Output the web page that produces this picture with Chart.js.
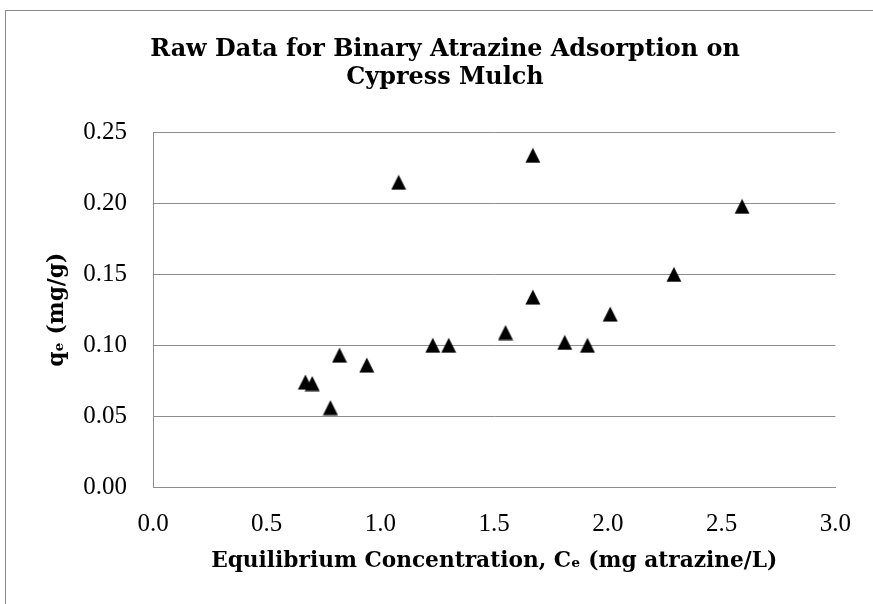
<!DOCTYPE html>
<html>
<head>
<meta charset="utf-8">
<script src="https://cdn.jsdelivr.net/npm/chart.js@4.4.0/dist/chart.umd.min.js"></script>
<style>
  html, body { margin: 0; padding: 0; background: #fff; overflow: hidden; }
  #frame { position: absolute; left: 5px; top: 10px; width: 2000px; height: 2000px;
           border: 1px solid #8a8a8a; box-sizing: border-box; }
  #wrap { position: absolute; left: 0; top: 0; width: 873px; height: 604px; }
</style>
</head>
<body>
<div id="frame"></div>
<div id="wrap"><canvas id="scatterChart" width="873" height="604"></canvas></div>
<script>
// readings from the reference picture
const ceValues = [0.67, 0.70, 0.78, 0.82, 0.94, 1.08, 1.23, 1.30, 1.55, 1.67, 1.67, 1.81, 1.91, 2.01, 2.29, 2.59];
const qeValues = [0.074, 0.073, 0.056, 0.093, 0.086, 0.215, 0.100, 0.100, 0.109, 0.234, 0.134, 0.102, 0.100, 0.122, 0.150, 0.198];
const xTicks = [0.0, 0.5, 1.0, 1.5, 2.0, 2.5, 3.0];
const yTicks = [0.00, 0.05, 0.10, 0.15, 0.20, 0.25];

const titleLines = ["Raw Data for Binary Atrazine Adsorption on", "Cypress Mulch"];
const xTitle = "Equilibrium Concentration, C\u2091 (mg atrazine/L)";
const yTitle = "q\u2091 (mg/g)";

// triangle marker, centred on its box like the spreadsheet one
const tri = document.createElement("canvas");
tri.width = 16;
tri.height = 16;
const t = tri.getContext("2d");
t.fillStyle = "#000";
t.beginPath();
t.moveTo(8, 0.5);
t.lineTo(15.5, 15.5);
t.lineTo(0.5, 15.5);
t.closePath();
t.fill();

const points = ceValues.map((x, i) => ({ x: x, y: qeValues[i] }));

const gridGray = "#8c8c8c";
const boldFamily = "DejaVu Serif";
const tickFamily = "Liberation Serif";

const canvas = document.getElementById("scatterChart");
const chart = new Chart(canvas, {
  type: "scatter",
  data: {
    datasets: [
      {
        label: "qe",
        data: points,
        pointStyle: tri,
        pointRadius: 8,
        backgroundColor: "#000",
        borderColor: "#000",
      },
    ],
  },
  options: {
    responsive: false,
    animation: false,
    layout: { padding: { left: 51, right: 34, top: 0, bottom: 0 } },
    plugins: {
      legend: { display: false },
      tooltip: { enabled: false },
      title: {
        display: true,
        text: titleLines,
        color: "#000",
        font: { family: boldFamily, size: 23.9, weight: "bold", lineHeight: 1.2 },
        padding: { top: 35, bottom: 40.3 },
      },
    },
    scales: {
      x: {
        type: "linear",
        min: 0,
        max: 3,
        afterBuildTicks: (scale) => { scale.ticks = xTicks.map(v => ({ value: v })); },
        afterFit: (scale) => { scale.height = 117; },
        grid: { display: false, drawTicks: false },
        border: { display: true, color: gridGray, width: 1 },
        ticks: {
          padding: 22,
          color: "#000",
          font: { family: tickFamily, size: 25 },
          callback: (v) => Number(v).toFixed(1),
        },
        title: {
          display: true,
          text: xTitle,
          color: "#000",
          font: { family: boldFamily, size: 21.7, weight: "bold", lineHeight: 1.2 },
          padding: { top: 0, bottom: 29.5 },
        },
      },
      y: {
        type: "linear",
        min: 0,
        max: 0.25,
        afterBuildTicks: (scale) => { scale.ticks = yTicks.map(v => ({ value: v })); },
        afterFit: (scale) => { scale.width = 102; },
        grid: { color: gridGray, lineWidth: 1, drawTicks: false },
        border: { display: true, color: gridGray, width: 1 },
        ticks: {
          padding: 26,
          color: "#000",
          font: { family: tickFamily, size: 25 },
          callback: (v) => Number(v).toFixed(2),
        },
        title: {
          display: true,
          text: yTitle,
          color: "#000",
          font: { family: boldFamily, size: 21.7, weight: "bold", lineHeight: 1.2 },
          padding: { top: -6.5, bottom: 0 },
        },
      },
    },
  },
});
</script>
</body>
</html>
